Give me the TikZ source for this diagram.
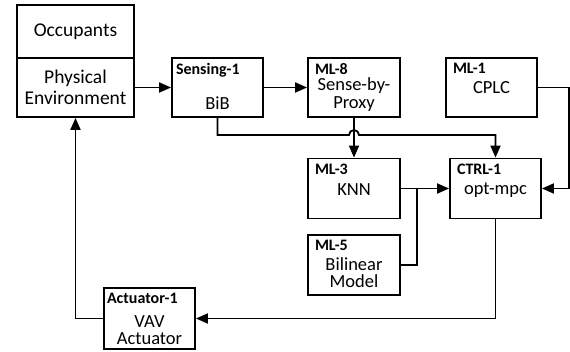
\documentclass[tikz,border=0pt]{standalone}
\usepackage{fontspec}
\setmainfont{Carlito}
\usetikzlibrary{arrows.meta}

\begin{document}
\begin{tikzpicture}
  [x=1pt,y=-1pt,line width=1.8pt,
   box/.style={draw,rectangle,minimum width=92pt,minimum height=60pt,inner sep=0pt},
   title/.style={anchor=north west,inner xsep=7pt,inner ysep=5.5pt,font=\fontsize{16}{17}\selectfont\bfseries},
   body/.style={align=center,font=\fontsize{18.5}{17.5}\selectfont},
   big/.style={align=center,font=\fontsize{19.5}{21}\selectfont},
   link/.style={-{Triangle[length=12pt,width=10pt]}}]
  \useasboundingbox (0,0) rectangle (570,352);

  \node[box,big,minimum width=117pt,minimum height=53pt] (occ) at (75.5,31.5) {Occupants};
  \node[box,big,minimum width=117pt,minimum height=59pt] (phys) at (75.5,87.5) {Physical\\Environment};

  \node[box,minimum width=91pt,minimum height=59pt] (sens) at (217.5,87.5) {};
  \node[title,inner xsep=4pt] (sensT) at (sens.north west) {Sensing-1};
  \node[body] (sensB) at (217.5,103) {BiB};

  \node[box,minimum height=59pt] (ml8) at (354,87.5) {};
  \node[title] (ml8T) at (ml8.north west) {ML-8};
  \node[body] (ml8B) at (354,94.5) {Sense-by-\\Proxy};

  \node[box,minimum width=91pt,minimum height=59pt] (ml1) at (491.5,87.5) {};
  \node[title] (ml1T) at (ml1.north west) {ML-1};
  \node[body] (ml1B) at (491.5,88) {CPLC};

  \node[box] (ml3) at (354,188.5) {};
  \node[title] (ml3T) at (ml3.north west) {ML-3};
  \node[body] (ml3B) at (354,190) {KNN};

  \node[box,minimum width=91pt] (ctrl) at (495.5,188.5) {};
  \node[title] (ctrlT) at (ctrl.north west) {CTRL-1};
  \node[body] (ctrlB) at (495.5,190) {opt-mpc};

  \node[box] (ml5) at (354,265) {};
  \node[title] (ml5T) at (ml5.north west) {ML-5};
  \node[body] (ml5B) at (354,272.5) {Bilinear\\Model};

  \node[box,minimum width=91pt,minimum height=61pt] (act) at (149.5,318.5) {};
  \node[title,inner xsep=3pt] (actT) at (act.north west) {Actuator-1};
  \node[body] (actB) at (149.5,330) {VAV\\Actuator};

  % sensing path
  \draw[link] (phys) -- (sens);
  \draw[link] (sens) -- (ml8);
  \draw[link] (sens.south) |- (349,135) arc (180:360:5) -| (ctrl.north);
  \draw[link] (ml8) -- (ml3);

  % models into controller
  \draw[link] (ml1.east) -- ++(31,0) |- (ctrl.east);
  \draw[link] (ml3) -- (ctrl);
  \draw (ml5.east) -| (417,188.5);

  % control loop
  \draw[link] (ctrl.south) |- (act.east);
  \draw[link] (act.west) -| (phys.south);
\end{tikzpicture}
\end{document}
